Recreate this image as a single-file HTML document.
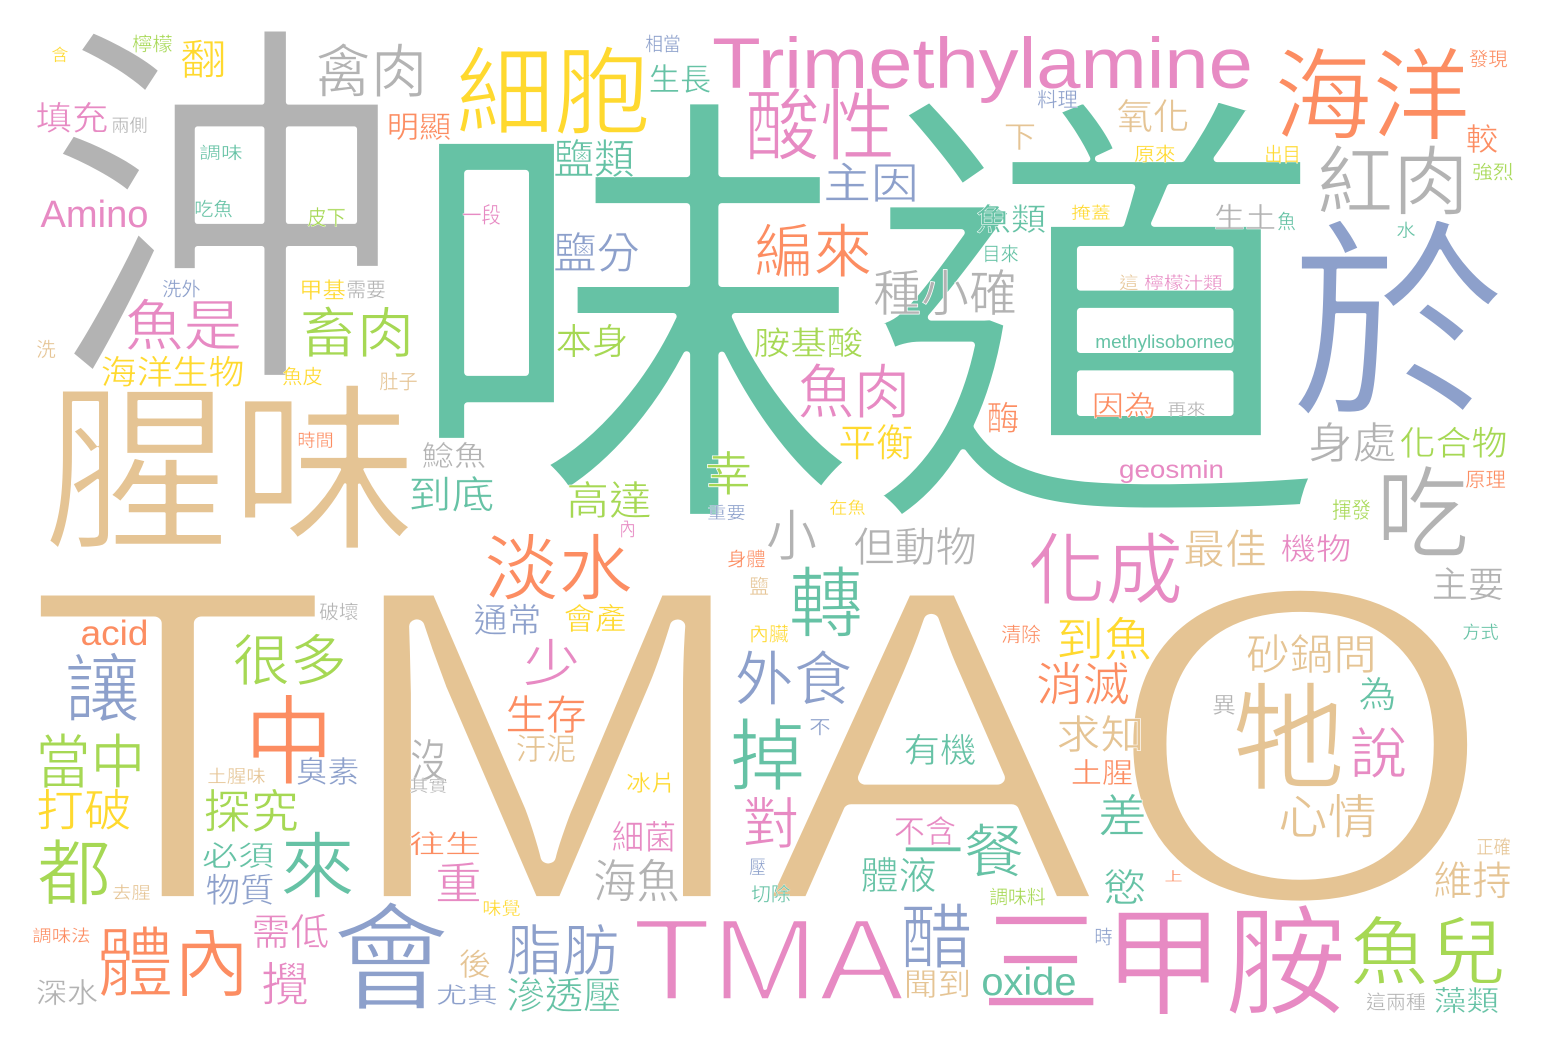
<!DOCTYPE html>
<html><head><meta charset="utf-8"><style>
html,body{margin:0;padding:0;background:#fff;}
svg{display:block;}
</style></head><body>
<svg id="cloud" width="1548" height="1052" viewBox="0 0 1548 1052" xmlns="http://www.w3.org/2000/svg">
<rect width="1548" height="1052" fill="#fff"/>
</svg>
<script>
const C={t:"#66c2a5",o:"#fc8d62",b:"#8da0cb",p:"#e78ac3",g:"#a6d854",y:"#ffd92f",n:"#e5c494",r:"#b3b3b3"};
// CJK words: text, color, ink box [x0,y0,x1,y1]
const cjkWords=[
["沖","r",60,37,387,380],["味道","t",420,110,1310,520],["腥味","n",50,388,410,550],
["於","b",1298,225,1498,418],["海洋","o",1278,50,1466,140],["紅肉","r",1320,147,1466,215],
["吃","r",1380,468,1465,558],["身處","r",1310,423,1395,462],["化合物","g",1401,428,1506,458],
["原理","o",1466,470,1505,488],["揮發","g",1333,500,1370,520],["因為","o",1093,393,1155,418],
["再來","r",1168,402,1205,416],["這","n",1120,275,1138,290],["檸檬汁類","p",1145,275,1222,290],
["生土","r",1215,205,1275,230],["魚","t",1278,212,1295,230],["水","t",1397,222,1415,238],
["掩蓋","y",1072,205,1110,220],["氧化","n",1118,100,1188,132],["原來","y",1135,145,1175,162],
["出目","y",1265,145,1300,163],["料理","b",1038,90,1077,108],["較","o",1467,125,1497,153],
["強烈","g",1473,163,1513,180],["發現","o",1470,50,1507,67],["細胞","y",460,48,648,135],
["禽肉","r",317,45,425,97],["翻","y",182,40,225,78],["檸檬","g",133,35,172,52],["含","y",52,47,68,62],
["填充","p",37,103,107,133],["兩側","r",112,117,147,133],["明顯","o",388,113,450,140],
["調味","t",200,145,242,160],["吃魚","t",195,200,232,217],["皮下","g",308,208,345,227],
["一段","p",463,205,500,225],["洗外","b",163,280,200,297],["甲基","y",300,280,345,300],
["需要","r",347,280,385,298],["魚是","p",127,300,240,350],["畜肉","g",302,308,412,357],
["洗","n",37,340,55,358],["海洋生物","y",102,357,243,387],["魚皮","y",283,367,322,385],
["肚子","n",380,372,417,390],["時間","o",298,432,333,448],["鯰魚","r",423,443,485,468],
["到底","t",410,477,493,512],["生長","t",650,65,710,93],["相當","b",646,35,680,52],
["酸性","p",748,90,892,160],["鹽類","t",555,140,633,177],["主因","b",825,163,917,202],
["下","n",1005,123,1035,150],["魚類","t",977,205,1045,233],["目來","t",983,245,1018,262],
["鹽分","b",555,233,638,272],["編來","o",757,225,870,277],["種小確","r",875,270,1015,315],
["本身","g",557,325,627,357],["胺基酸","g",755,328,862,357],["魚肉","p",800,365,908,418],
["酶","o",988,403,1018,433],["平衡","y",840,425,912,460],["幸","g",707,452,750,495],
["高達","g",568,482,650,518],["重要","b",708,505,745,520],["在魚","y",830,500,865,515],
["內","p",620,520,635,537],["小","r",768,510,815,560],["但動物","r",855,528,975,565],
["淡水","o",487,535,630,600],["身體","o",728,550,765,567],["轉","t",792,568,860,637],
["化成","p",1031,534,1180,604],["最佳","n",1185,530,1265,567],["機物","p",1282,535,1350,562],
["主要","r",1433,568,1503,600],["方式","t",1463,624,1498,640],["鹽","n",750,577,768,595],
["通常","b",475,605,540,635],["會產","y",565,605,625,632],["內臟","y",750,625,788,642],
["清除","o",1002,625,1040,643],["到魚","y",1058,618,1150,660],["破壞","r",320,603,358,620],
["很多","g",235,635,345,685],["讓","b",68,655,137,722],["少","p",525,640,578,686],
["外食","b",737,652,850,705],["砂鍋問","n",1248,635,1375,673],["消滅","o",1038,663,1128,705],
["為","t",1360,678,1395,710],["中","o",248,697,330,785],["生存","o",507,696,585,733],
["掉","t",733,720,802,790],["牠","n",1237,685,1340,790],["異","r",1213,695,1235,715],
["說","p",1352,728,1405,778],["求知","n",1058,716,1143,752],["有機","t",905,735,975,765],
["不","b",810,718,830,735],["汙泥","n",517,735,575,762],["當中","g",38,735,143,788],
["沒","r",412,740,445,782],["臭素","b",297,758,358,785],["土腥味","n",208,768,265,784],
["其實","r",410,778,447,793],["土腥","o",1072,760,1132,785],["冰片","y",627,773,675,793],
["打破","y",38,790,130,830],["探究","g",205,790,297,832],["對","p",745,798,797,848],
["差","t",1100,795,1145,836],["心情","n",1280,795,1375,838],["不含","p",895,817,955,845],
["細菌","p",613,822,675,852],["往生","o",410,832,480,855],["一餐","t",905,825,1022,877],
["都","g",40,840,108,905],["必須","t",203,843,273,868],["來","t",283,833,352,898],
["海魚","r",595,860,678,902],["重","p",437,863,480,903],["體液","t",862,858,935,892],
["壓","b",750,858,765,875],["正確","n",1477,838,1510,855],["慾","t",1105,870,1145,905],
["上","o",1165,870,1182,882],["維持","n",1435,862,1510,898],["物質","b",207,875,273,905],
["去腥","n",113,885,150,900],["切除","t",752,885,790,902],["調味料","g",990,888,1045,905],
["味覺","y",483,900,520,916],["調味法","o",33,928,90,943],["體內","o",100,928,247,997],
["需低","p",253,915,328,948],["會","b",337,905,445,1010],["脂肪","b",508,925,617,975],
["醋","b",903,905,970,968],["三甲胺","p",985,907,1342,1015],["時","b",1095,928,1112,945],
["魚兒","g",1353,918,1503,985],["後","n",460,950,490,978],["攪","p",263,963,307,1005],
["聞到","n",905,970,970,998],["深水","r",37,980,97,1005],["尤其","b",437,985,497,1005],
["滲透壓","t",508,978,620,1012],["這兩種","r",1367,993,1425,1010],["藻類","t",1435,988,1498,1013]
];
// Latin words: text, color, x0, x1, baseline, font size
const latinBig=[["TMAO","n",40,1481,903,457]];
const latinWords=[
["Trimethylamine","p",715,1250,88,71],["Amino","p",42,147,227,38],
["acid","o",82,147,645,35],["geosmin","p",1120,1223,478,25],["methylisoborneol","t",1096,1238,348,18],
["TMA","p",637,900,1000,117],["oxide","t",983,1075,995,39]
];
const NS="http://www.w3.org/2000/svg";
const svg=document.getElementById("cloud");
function addLatin(w){
  const [txt,c,x0,x1,bl,s]=w;
  const t=document.createElementNS(NS,"text");
  t.setAttribute("x",(x0-0.04*s).toFixed(1));
  t.setAttribute("y",bl);
  t.setAttribute("font-size",s);
  t.setAttribute("fill",C[c]);
  if(s>100){
    t.setAttribute("stroke","#fff");
    t.setAttribute("stroke-width",(0.03*s).toFixed(1));
    t.setAttribute("stroke-linejoin","round");
  }
  t.setAttribute("textLength",(x1-x0+0.08*s).toFixed(1));
  t.setAttribute("lengthAdjust","spacingAndGlyphs");
  t.setAttribute("font-family","'Liberation Sans',sans-serif");
  
  
  t.textContent=txt;
  svg.appendChild(t);
}
latinBig.forEach(addLatin);
cjkWords.forEach((w)=>{
  const [txt,c,x0,y0,x1,y1]=w;
  const s=(y1-y0)/0.9;
  const t=document.createElementNS(NS,"text");
  t.setAttribute("x",(x0-0.04*s).toFixed(1));
  t.setAttribute("y",(y1-0.085*s).toFixed(1));
  t.setAttribute("font-size",s.toFixed(1));
  t.setAttribute("fill",C[c]);
  t.setAttribute("stroke","#fff");
  t.setAttribute("stroke-width",(0.015*s).toFixed(2));
  t.setAttribute("stroke-linejoin","round");
  t.setAttribute("textLength",(x1-x0+0.08*s).toFixed(1));
  t.setAttribute("lengthAdjust","spacingAndGlyphs");
  t.setAttribute("font-family","'Noto Sans CJK TC','Noto Sans CJK SC',sans-serif");
  
  
  t.textContent=txt;
  svg.appendChild(t);
});
latinWords.forEach(addLatin);
</script>
</body></html>
